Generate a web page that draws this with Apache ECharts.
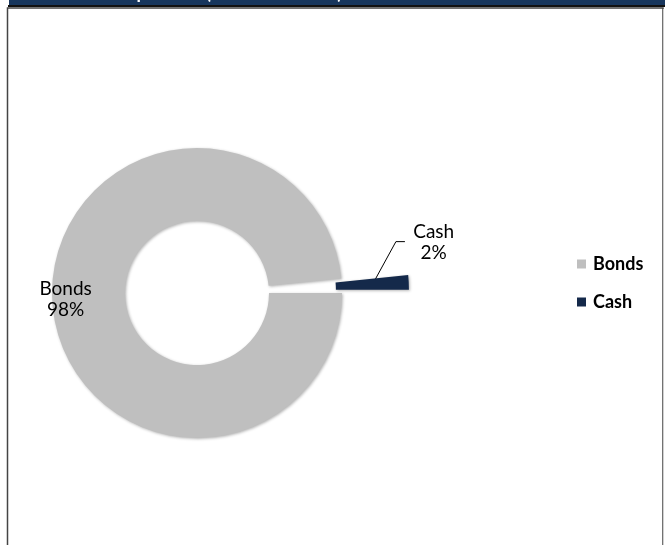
<!DOCTYPE html>
<html>
<head>
<meta charset="utf-8">
<script src="https://cdn.jsdelivr.net/npm/echarts@6/dist/echarts.min.js"></script>
<style>
html,body{margin:0;padding:0;background:#fff;}
#c{width:665px;height:545px;}
</style>
</head>
<body>
<div id="c"></div>
<script>
const categories = ['Bonds', 'Cash'];
const values = [98.4, 1.6];
const colors = ['#BFBFBF', '#14294A'];
const titleText = 'Portfolio Composition (% of Net Assets)';

const chart = echarts.init(document.getElementById('c'), null, {renderer: 'canvas'});
const FONT = 'Lato, "Open Sans", sans-serif';

const data = categories.map((name, i) => ({
  name: name,
  value: values[i],
  selected: i === 1,
  itemStyle: {color: colors[i]},
  label: i === 0
    ? {position: 'inside'}
    : {position: 'outside'},
  labelLine: {show: i === 1, lineStyle: {color: '#000', width: 1}}
}));

chart.setOption({
  animation: false,
  backgroundColor: '#fff',
  graphic: [
    {type: 'rect', shape: {x: 9, y: 0, width: 656, height: 5}, style: {fill: '#17365D'}, z: 10},
    {type: 'text', left: 25, top: -16, style: {text: titleText, fill: '#fff', font: 'bold 18px ' + FONT}, z: 11},
    {type: 'rect', shape: {x: 8, y: 5, width: 657, height: 2}, style: {fill: '#111'}, z: 10},
    {type: 'rect', shape: {x: 7.5, y: 8, width: 655.5, height: 560}, style: {fill: 'none', stroke: '#444', lineWidth: 1.5}, z: 9},
    {type: 'line', shape: {x1: 663.5, y1: 9, x2: 663.5, y2: 545}, style: {stroke: '#d0d0d0', lineWidth: 1}, z: 10}
  ],
  legend: {
    orient: 'vertical',
    left: 572,
    top: 250,
    itemWidth: 9,
    itemHeight: 9,
    itemGap: 20,
    icon: 'rect',
    selectedMode: false,
    data: categories,
    textStyle: {fontFamily: FONT, fontSize: 18, fontWeight: 'bold', color: '#000', padding: [0, 0, 0, 2]}
  },
  series: [{
    type: 'pie',
    center: [197, 293],
    radius: [72, 145],
    startAngle: 0,
    clockwise: true,
    selectedMode: 'single',
    selectedOffset: 67,
    percentPrecision: 0,
    avoidLabelOverlap: false,
    silent: true,
    itemStyle: {
      shadowColor: 'rgba(0,0,0,0.3)',
      shadowBlur: 3,
      shadowOffsetX: 1,
      shadowOffsetY: 1
    },
    label: {
      formatter: '{b}\n{d}%',
      fontFamily: FONT,
      fontSize: 19,
      lineHeight: 21,
      color: '#000',
      align: 'center'
    },
    labelLayout: function (p) {
      if (p.dataIndex === 0) {
        return {dx: -20, dy: 1};
      }
      return {
        dx: -25, dy: -39, align: 'center',
        labelLinePoints: [[306, 287], [329, 245], [338, 245]]
      };
    },
    data: data
  }]
});
</script>
</body>
</html>
